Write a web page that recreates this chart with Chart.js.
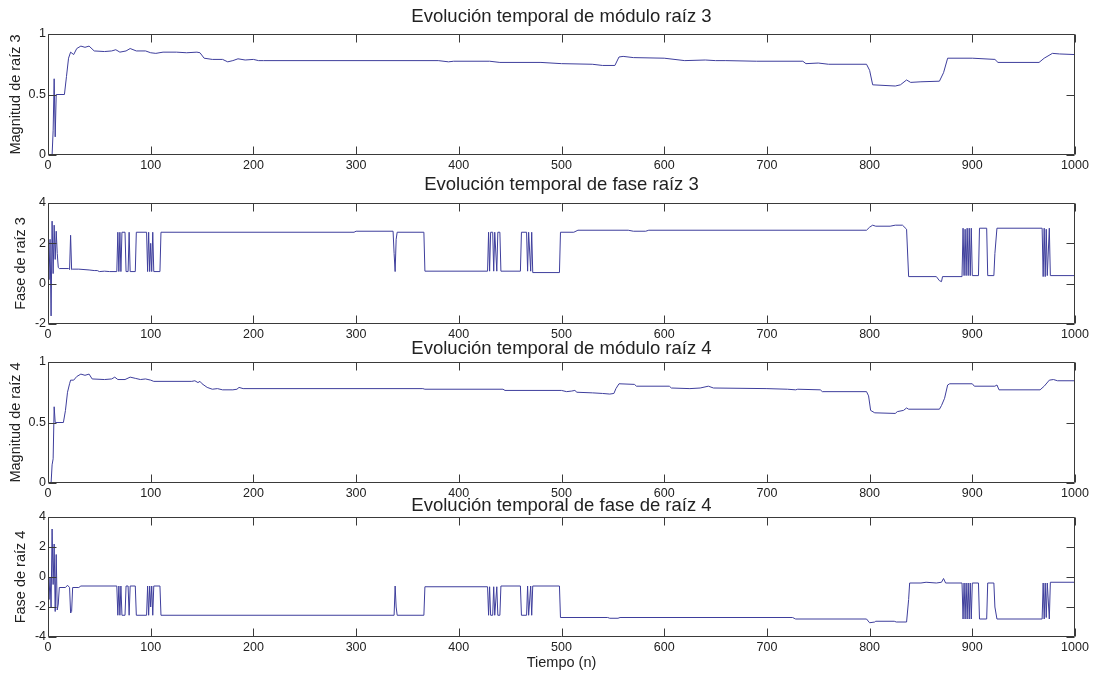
<!DOCTYPE html>
<html>
<head>
<meta charset="utf-8">
<script src="https://cdn.jsdelivr.net/npm/chart.js@4/dist/chart.umd.min.js"></script>
<style>
  html, body { margin: 0; padding: 0; background: #ffffff; }
  body { width: 1094px; height: 676px; position: relative; overflow: hidden; }
  canvas { position: absolute; left: 0; display: block; }
</style>
</head>
<body>
<canvas id="c1"></canvas>
<canvas id="c2"></canvas>
<canvas id="c3"></canvas>
<canvas id="c4"></canvas>
<script>
// ---------------- data ----------------
const xTickVals = [0, 100, 200, 300, 400, 500, 600, 700, 800, 900, 1000];
const magTickVals = [0, 0.5, 1];
const fase3TickVals = [-2, 0, 2, 4];
const fase4TickVals = [-4, -2, 0, 2, 4];

const titles = [
  'Evolución temporal de módulo raíz 3',
  'Evolución temporal de fase raíz 3',
  'Evolución temporal de módulo raíz 4',
  'Evolución temporal de fase de raíz 4'
];
const yLabels = ['Magnitud de raíz 3', 'Fase de raíz 3', 'Magnitud de raíz 4', 'Fase de raíz 4'];
const xLabel = 'Tiempo (n)';

// módulo raíz 3: [n, value]
const mod3 = [[0,0],[4,0],[5,0.2],[6,0.63],[7,0.15],[8,0.5],[16,0.5],[18,0.65],[20,0.8],[22,0.85],[25,0.83],[28,0.88],[32,0.9],[36,0.89],[40,0.9],[45,0.86],[55,0.855],[62,0.86],[66,0.87],[70,0.85],[76,0.86],[80,0.88],[86,0.86],[95,0.86],[100,0.845],[105,0.84],[112,0.85],[125,0.85],[135,0.845],[145,0.85],[148,0.845],[152,0.8],[160,0.79],[170,0.79],[175,0.77],[180,0.78],[185,0.795],[192,0.785],[200,0.79],[205,0.78],[210,0.78],[380,0.78],[390,0.77],[395,0.775],[430,0.775],[440,0.765],[480,0.765],[500,0.755],[530,0.75],[540,0.74],[552,0.74],[556,0.81],[560,0.815],[570,0.805],[600,0.8],[620,0.78],[640,0.785],[650,0.78],[660,0.78],[690,0.775],[735,0.775],[738,0.755],[750,0.76],[760,0.75],[797,0.75],[800,0.7],[803,0.58],[825,0.57],[830,0.58],[836,0.62],[840,0.6],[850,0.605],[868,0.61],[872,0.68],[876,0.8],[900,0.8],[922,0.79],[925,0.765],[965,0.765],[970,0.8],[978,0.84],[985,0.835],[1000,0.83]];

// fase raíz 3
const fase3 = [[0,1.5],[1,0.2],[2,2.2],[3,-1.6],[4,3.1],[5,0.5],[6,2.9],[7,1.2],[8,2.6],[9,1.5],[10,0.8],[11,0.75],[20,0.75],[21,0.7],[22,2.4],[23,0.7],[24,0.72],[30,0.72],[40,0.68],[45,0.65],[48,0.65],[50,0.6],[55,0.62],[60,0.6],[67,0.6],[68,2.55],[69,0.6],[70,2.55],[71,0.6],[72,2.55],[75,2.55],[76,0.6],[78,0.6],[79,2.55],[80,0.6],[85,0.6],[86,2.55],[96,2.55],[97,0.6],[98,2.55],[99,0.6],[100,2.0],[101,0.6],[102,2.55],[103,0.6],[109,0.6],[110,2.55],[298,2.55],[300,2.6],[336,2.6],[337,1.5],[338,0.6],[339,2.2],[340,2.55],[366,2.55],[367,0.62],[428,0.62],[429,2.55],[430,0.62],[431,2.55],[433,2.55],[434,0.62],[435,2.55],[437,0.62],[438,2.55],[440,2.55],[441,0.62],[460,0.62],[461,2.55],[466,2.55],[467,0.62],[468,2.55],[470,0.62],[471,2.55],[472,0.55],[498,0.55],[499,2.55],[512,2.55],[516,2.65],[565,2.65],[570,2.6],[582,2.6],[585,2.65],[797,2.65],[800,2.8],[803,2.9],[806,2.85],[820,2.85],[825,2.9],[832,2.9],[836,2.7],[838,0.35],[865,0.35],[868,0.15],[870,0.1],[871,0.35],[890,0.35],[891,2.75],[892,0.4],[893,2.7],[894,0.4],[895,2.75],[896,0.4],[897,2.75],[898,0.4],[899,2.75],[900,0.4],[906,0.4],[907,2.75],[914,2.75],[915,0.4],[921,0.4],[922,1.5],[924,2.75],[968,2.75],[969,0.35],[970,2.75],[971,0.35],[972,2.7],[973,0.4],[975,2.75],[976,0.4],[1000,0.4]];

// módulo raíz 4
const mod4 = [[0,0],[3,0],[4,0.15],[5,0.2],[6,0.63],[7,0.5],[15,0.5],[17,0.6],[19,0.75],[21,0.82],[22,0.85],[25,0.85],[28,0.88],[32,0.9],[36,0.89],[40,0.9],[43,0.86],[55,0.855],[62,0.86],[65,0.875],[68,0.855],[75,0.855],[80,0.875],[85,0.865],[90,0.855],[95,0.86],[100,0.85],[103,0.84],[140,0.84],[143,0.845],[146,0.83],[148,0.84],[150,0.82],[155,0.79],[160,0.775],[165,0.78],[170,0.77],[180,0.77],[184,0.775],[186,0.79],[190,0.78],[365,0.78],[367,0.775],[443,0.775],[445,0.765],[500,0.765],[505,0.755],[510,0.76],[513,0.765],[515,0.75],[530,0.745],[540,0.74],[547,0.735],[551,0.74],[553,0.78],[556,0.82],[571,0.815],[573,0.8],[605,0.8],[607,0.785],[625,0.78],[635,0.785],[643,0.8],[648,0.785],[700,0.78],[720,0.775],[728,0.77],[730,0.775],[752,0.77],[754,0.755],[797,0.755],[799,0.72],[801,0.6],[805,0.58],[825,0.575],[827,0.59],[833,0.6],[836,0.62],[838,0.61],[868,0.61],[870,0.64],[873,0.7],[876,0.81],[878,0.82],[900,0.82],[902,0.8],[922,0.8],[924,0.81],[926,0.77],[966,0.77],[970,0.8],[975,0.85],[979,0.855],[983,0.845],[1000,0.845]];

// fase raíz 4
const fase4 = [[0,-0.3],[1,-1.5],[2,0],[3,-2.0],[4,3.2],[5,-0.5],[6,2.2],[7,-2.3],[8,1.5],[9,-2.2],[10,-1.8],[11,-0.7],[17,-0.7],[19,-0.55],[21,-0.7],[22,-2.4],[23,-2.3],[24,-0.7],[30,-0.7],[32,-0.6],[67,-0.6],[68,-2.55],[69,-0.6],[70,-2.55],[71,-0.6],[72,-2.55],[75,-2.55],[76,-0.6],[78,-0.6],[79,-2.55],[80,-0.6],[85,-0.6],[86,-2.55],[96,-2.55],[97,-0.6],[98,-2.55],[99,-0.6],[100,-2.0],[101,-0.6],[102,-2.55],[103,-0.6],[109,-0.6],[110,-2.55],[337,-2.55],[338,-0.6],[339,-2.0],[340,-2.55],[366,-2.55],[367,-0.65],[428,-0.65],[429,-2.55],[430,-0.65],[431,-2.55],[433,-2.55],[434,-0.65],[435,-2.55],[437,-0.65],[438,-2.55],[440,-2.55],[441,-0.6],[460,-0.6],[461,-2.55],[466,-2.55],[467,-0.6],[468,-2.55],[470,-0.6],[471,-2.55],[472,-0.6],[498,-0.6],[499,-2.7],[545,-2.7],[547,-2.75],[555,-2.75],[557,-2.7],[725,-2.7],[728,-2.8],[797,-2.8],[800,-3.05],[805,-3.0],[806,-2.95],[824,-2.95],[826,-3.0],[836,-3.0],[838,-1.5],[839,-0.4],[850,-0.4],[855,-0.35],[865,-0.4],[870,-0.35],[872,-0.1],[874,-0.4],[890,-0.4],[891,-2.8],[892,-0.4],[893,-2.8],[894,-0.4],[895,-2.8],[896,-0.4],[897,-2.8],[898,-0.4],[899,-2.8],[900,-0.4],[906,-0.4],[907,-2.8],[914,-2.8],[915,-0.4],[921,-0.4],[922,-2.0],[924,-2.8],[968,-2.8],[969,-0.4],[970,-2.8],[971,-0.4],[972,-2.7],[973,-0.4],[975,-2.8],[976,-0.35],[1000,-0.35]];

// ---------------- styling / layout ----------------
const LINE = '#3e3e9c';
const FRAME = '#3a3a3a';
const TEXT = '#222222';
const FONT = "'Liberation Sans', Arial, Helvetica, sans-serif";
const TITLE_SIZE = 18.5, TICK_SIZE = 12.5, AXT_SIZE = 14.5;

const panels = [
  { id: 'c1', data: mod3,  yTicks: magTickVals,   ymin: 0,  ymax: 1, top: 34,  bottom: 155, titleY: 16.7, yTitleX: 15.5, xTitle: false },
  { id: 'c2', data: fase3, yTicks: fase3TickVals, ymin: -2, ymax: 4, top: 203, bottom: 324, titleY: 184.5, yTitleX: 21, xTitle: false },
  { id: 'c3', data: mod4,  yTicks: magTickVals,   ymin: 0,  ymax: 1, top: 362, bottom: 483, titleY: 349, yTitleX: 15.5, xTitle: false },
  { id: 'c4', data: fase4, yTicks: fase4TickVals, ymin: -4, ymax: 4, top: 517, bottom: 637, titleY: 505.5, yTitleX: 21, xTitle: true }
];

const LEFT = 48, RIGHT = 1075, W = 1094, H = 676;

// MATLAB-like box with inward ticks
const boxPlugin = {
  id: 'matlabBox',
  afterDatasetsDraw(chart) {
    const { ctx, chartArea: a, scales } = chart;
    const L = Math.round(a.left) + 0.5, R = Math.round(a.right) - 0.5;
    const T = Math.round(a.top) + 0.5, B = Math.round(a.bottom) - 0.5;
    const tl = 8;
    ctx.save();
    ctx.strokeStyle = FRAME;
    ctx.lineWidth = 1;
    ctx.beginPath();
    ctx.rect(L, T, R - L, B - T);
    scales.x.ticks.forEach(t => {
      const px = Math.round(scales.x.getPixelForValue(t.value)) + 0.5;
      ctx.moveTo(px, B); ctx.lineTo(px, B - tl);
      ctx.moveTo(px, T); ctx.lineTo(px, T + tl);
    });
    scales.y.ticks.forEach(t => {
      const py = Math.round(scales.y.getPixelForValue(t.value)) + 0.5;
      ctx.moveTo(L, py); ctx.lineTo(L + tl, py);
      ctx.moveTo(R, py); ctx.lineTo(R - tl, py);
    });
    ctx.stroke();
    ctx.restore();
  }
};

panels.forEach((p, i) => {
  const lh = TITLE_SIZE * 1.2;
  const cTop = Math.floor(p.titleY - lh / 2);
  const padTop = p.titleY - lh / 2 - cTop;
  const padBottom = p.top - cTop - padTop - lh;
  const xAxisH = p.xTitle ? (H - p.bottom) : 22;
  const cHeight = p.bottom + xAxisH - cTop;
  const cv = document.getElementById(p.id);
  cv.width = W; cv.height = cHeight;
  cv.style.top = cTop + 'px';
  cv.style.width = W + 'px'; cv.style.height = cHeight + 'px';
  const axLh = AXT_SIZE * 1.2;

  new Chart(cv, {
    type: 'line',
    data: {
      datasets: [{
        data: p.data.map(d => ({ x: d[0], y: d[1] })),
        borderColor: LINE,
        borderWidth: 1,
        pointRadius: 0,
        tension: 0,
        fill: false
      }]
    },
    options: {
      responsive: false,
      animation: false,
      events: [],
      layout: { padding: { left: 0, right: W - RIGHT, top: 0, bottom: 0 } },
      plugins: {
        legend: { display: false },
        tooltip: { enabled: false },
        title: {
          display: true,
          text: titles[i],
          fullSize: false,
          color: TEXT,
          font: { family: FONT, size: TITLE_SIZE, weight: 'normal', lineHeight: 1.2 },
          padding: { top: padTop, bottom: padBottom }
        }
      },
      scales: {
        x: {
          type: 'linear',
          min: 0, max: 1000,
          grid: { display: false, drawTicks: false },
          border: { display: false },
          afterBuildTicks: s => { s.ticks = xTickVals.map(v => ({ value: v })); },
          afterFit: s => { s.height = xAxisH; },
          ticks: {
            autoSkip: false, maxRotation: 0, minRotation: 0,
            padding: 3, color: TEXT,
            font: { family: FONT, size: TICK_SIZE },
            callback: v => String(v)
          },
          title: {
            display: p.xTitle,
            text: xLabel,
            color: TEXT,
            font: { family: FONT, size: AXT_SIZE, lineHeight: 1.2 },
            padding: { top: 0, bottom: 4.6 }
          }
        },
        y: {
          type: 'linear',
          min: p.ymin, max: p.ymax,
          grid: { display: false, drawTicks: false },
          border: { display: false },
          afterBuildTicks: s => { s.ticks = p.yTicks.map(v => ({ value: v })); },
          afterFit: s => { s.width = LEFT; },
          ticks: {
            padding: 2, color: TEXT,
            font: { family: FONT, size: TICK_SIZE },
            callback: v => String(v)
          },
          title: {
            display: true,
            text: yLabels[i],
            color: TEXT,
            font: { family: FONT, size: AXT_SIZE, lineHeight: 1.2 },
            padding: { top: p.yTitleX - axLh / 2, bottom: 0 }
          }
        }
      }
    },
    plugins: [boxPlugin]
  });
});
</script>
</body>
</html>
